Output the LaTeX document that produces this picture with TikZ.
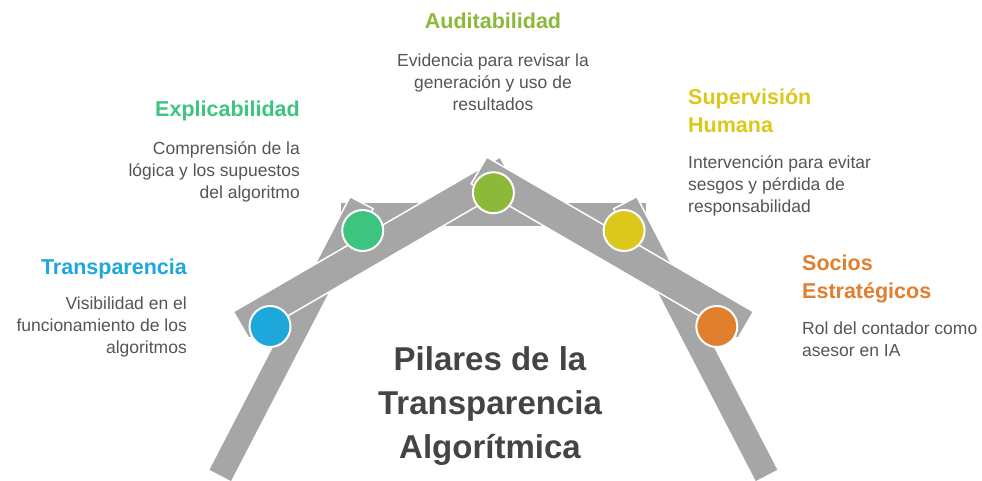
\documentclass[tikz,border=0pt]{standalone}
\usepackage{fontspec}
\setmainfont{Liberation Sans}
\definecolor{beam}{HTML}{A6A6A6}
\definecolor{cblue}{HTML}{1EA7DA}
\definecolor{cgreen}{HTML}{3DC47E}
\definecolor{colive}{HTML}{8DB93A}
\definecolor{cyellow}{HTML}{DCC81C}
\definecolor{corange}{HTML}{E07F2E}
\definecolor{desctext}{HTML}{555555}
\definecolor{titletext}{HTML}{444444}
\begin{document}
\begin{tikzpicture}[x=1pt,y=-1pt,
  beamshape/.style={fill=beam,draw=white,line width=1.5pt,line join=miter},
  joint/.style={circle,draw=white,line width=2pt,minimum size=41pt,inner sep=0pt},
  head/.style={font={\fontsize{21.5}{28}\selectfont\bfseries},inner sep=0pt},
  desc/.style={font={\fontsize{17.5}{22}\selectfont},text=desctext,inner sep=0pt},
  maintitle/.style={font={\fontsize{33}{44}\selectfont\bfseries},text=titletext,inner sep=0pt,align=center}]
\useasboundingbox (0,0) rectangle (982,480);
\fill[white] (0,0) rectangle (982,480);
% horizontal tie
\draw[beamshape] (340,202) rectangle (646.8,227);
% legs
\draw[beamshape] (350,196.7) -- (373.1,208.7) -- (231.4,482.2) -- (208.3,470.2) -- cycle;
\draw[beamshape] (636.8,196.7) -- (613.7,208.7) -- (755.4,482.2) -- (778.5,470.2) -- cycle;
% rafters
\draw[beamshape] (233.3,311.7) -- (500,157) -- (515.6,183.8) -- (248.9,338.5) -- cycle;
\draw[beamshape] (753.5,311.7) -- (486.8,157) -- (471.2,183.8) -- (737.9,338.5) -- cycle;
% joints
\node[joint,fill=cblue] (c1) at (270,326.5) {};
\node[joint,fill=cgreen] (c2) at (362.7,230.5) {};
\node[joint,fill=colive] (c3) at (493.4,192.7) {};
\node[joint,fill=cyellow] (c4) at (624.1,230.5) {};
\node[joint,fill=corange] (c5) at (716.8,326.5) {};
% texts (multi-line nodes: base anchor = baseline of last line)
\node[head,text=cblue,anchor=base east] (h1) at (187,274) {Transparencia};
\node[desc,anchor=base east,align=right] (d1) at (187,353) {Visibilidad en el\\funcionamiento de los\\algoritmos};
\node[head,text=cgreen,anchor=base east] (h2) at (300,116) {Explicabilidad};
\node[desc,anchor=base east,align=right] (d2) at (300,198) {Comprensión de la\\lógica y los supuestos\\del algoritmo};
\node[head,text=colive,anchor=base] (h3) at (493,28) {Auditabilidad};
\node[desc,anchor=base,align=center] (d3) at (493,110) {Evidencia para revisar la\\generación y uso de\\resultados};
\node[head,text=cyellow,anchor=base west,align=left] (h4) at (688,132) {Supervisión\\Humana};
\node[desc,anchor=base west,align=left] (d4) at (688,212) {Intervención para evitar\\sesgos y pérdida de\\responsabilidad};
\node[head,text=corange,anchor=base west,align=left] (h5) at (802,298) {Socios\\Estratégicos};
\node[desc,anchor=base west,align=left] (d5) at (802,356) {Rol del contador como\\asesor en IA};
\node[maintitle,anchor=base] (title) at (490,458) {Pilares de la\\Transparencia\\Algorítmica};
\end{tikzpicture}
\end{document}
